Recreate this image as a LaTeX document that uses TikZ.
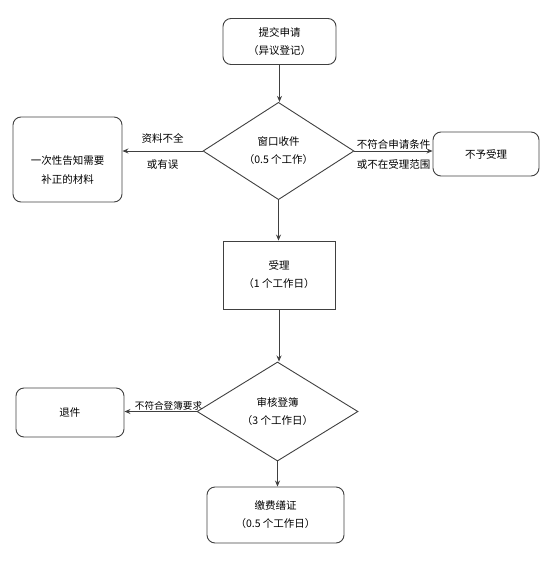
\documentclass[tikz,border=0pt]{standalone}
\usepackage{fontspec}
\newfontfamily\cjk{Noto Sans CJK SC}
\usetikzlibrary{shapes.geometric,arrows.meta}
\begin{document}
\begin{tikzpicture}[x=1pt,y=-1pt]
\tikzset{
    >={Stealth[length=6pt,width=5pt]},
    liucheng/.style={->, line width=0.8pt, draw=black!75},
    kuang/.style={rectangle, rounded corners=8pt, line width=0.9pt, draw=black!75,
                  font=\cjk\fontsize{10.5}{18}\selectfont, align=center},
    fangkuang/.style={rectangle, line width=0.9pt, draw=black!75,
                  font=\cjk\fontsize{10.5}{18}\selectfont, align=center},
    panduan/.style={diamond, line width=0.9pt, draw=black!75, inner sep=0pt,
                  font=\cjk\fontsize{10.5}{18}\selectfont, align=center},
    biaoqian/.style={font=\cjk\fontsize{10.5}{12}\selectfont, inner sep=1pt}
}
\useasboundingbox (0,0) rectangle (554,571);
% Nodes
\node[kuang, minimum width=113pt, minimum height=46pt] (tijiao) at (279.5,41.5)
    {提交申请\\（异议登记）};
\node[panduan, minimum width=151pt, minimum height=92pt] (shoujian) at (278.5,151)
    {窗口收件\\（0.5 个工作）};
\node[kuang, minimum width=109pt, minimum height=85pt] (buzheng) at (67.5,159.5) {};
\node[biaoqian] (buzhengwz) at (67.5,170.5) {\fontsize{10.5}{19}\selectfont
    \begin{tabular}{@{}c@{}}一次性告知需要\\补正的材料\end{tabular}};
\node[kuang, minimum width=106pt, minimum height=44pt] (buyu) at (486,154) {不予受理};
\node[fangkuang, minimum width=112pt, minimum height=68pt] (shouli) at (279,275)
    {受理\\（1 个工作日）};
\node[panduan, minimum width=161pt, minimum height=91pt] (shenhe) at (277.5,411.5)
    {审核登簿\\（3 个工作日）};
\node[kuang, minimum width=108pt, minimum height=49pt] (tuijian) at (70,412.5) {退件};
\node[kuang, minimum width=137pt, minimum height=56pt] (jiaofei) at (275.5,515)
    {缴费缮证\\（0.5 个工作日）};
% Main flow
\draw[liucheng] (tijiao) -- (tijiao |- shoujian.north);
\draw[liucheng] (shoujian.south) -- (shoujian.south |- shouli.north);
\draw[liucheng] (shouli.south) -- (shouli.south |- shenhe.north);
\draw[liucheng] (shenhe.south) -- (shenhe.south |- jiaofei.north);
% Branches
\draw[liucheng] (shoujian.west) -- (shoujian.west -| buzheng.east)
    node[midway, biaoqian, above=6pt] {资料不全}
    node[midway, biaoqian, below=7pt] {或有误};
\draw[liucheng] (shoujian.east) -- (shoujian.east -| buyu.west)
    node[midway, biaoqian, above=0pt] {不符合申请条件}
    node[midway, biaoqian, below=7pt] {或不在受理范围};
\draw[liucheng] (shenhe.west) -- (shenhe.west -| tuijian.east)
    node[midway, biaoqian, above=0pt, xshift=8pt, font=\cjk\fontsize{9.6}{12}\selectfont] {不符合登簿要求};
\end{tikzpicture}
\end{document}
